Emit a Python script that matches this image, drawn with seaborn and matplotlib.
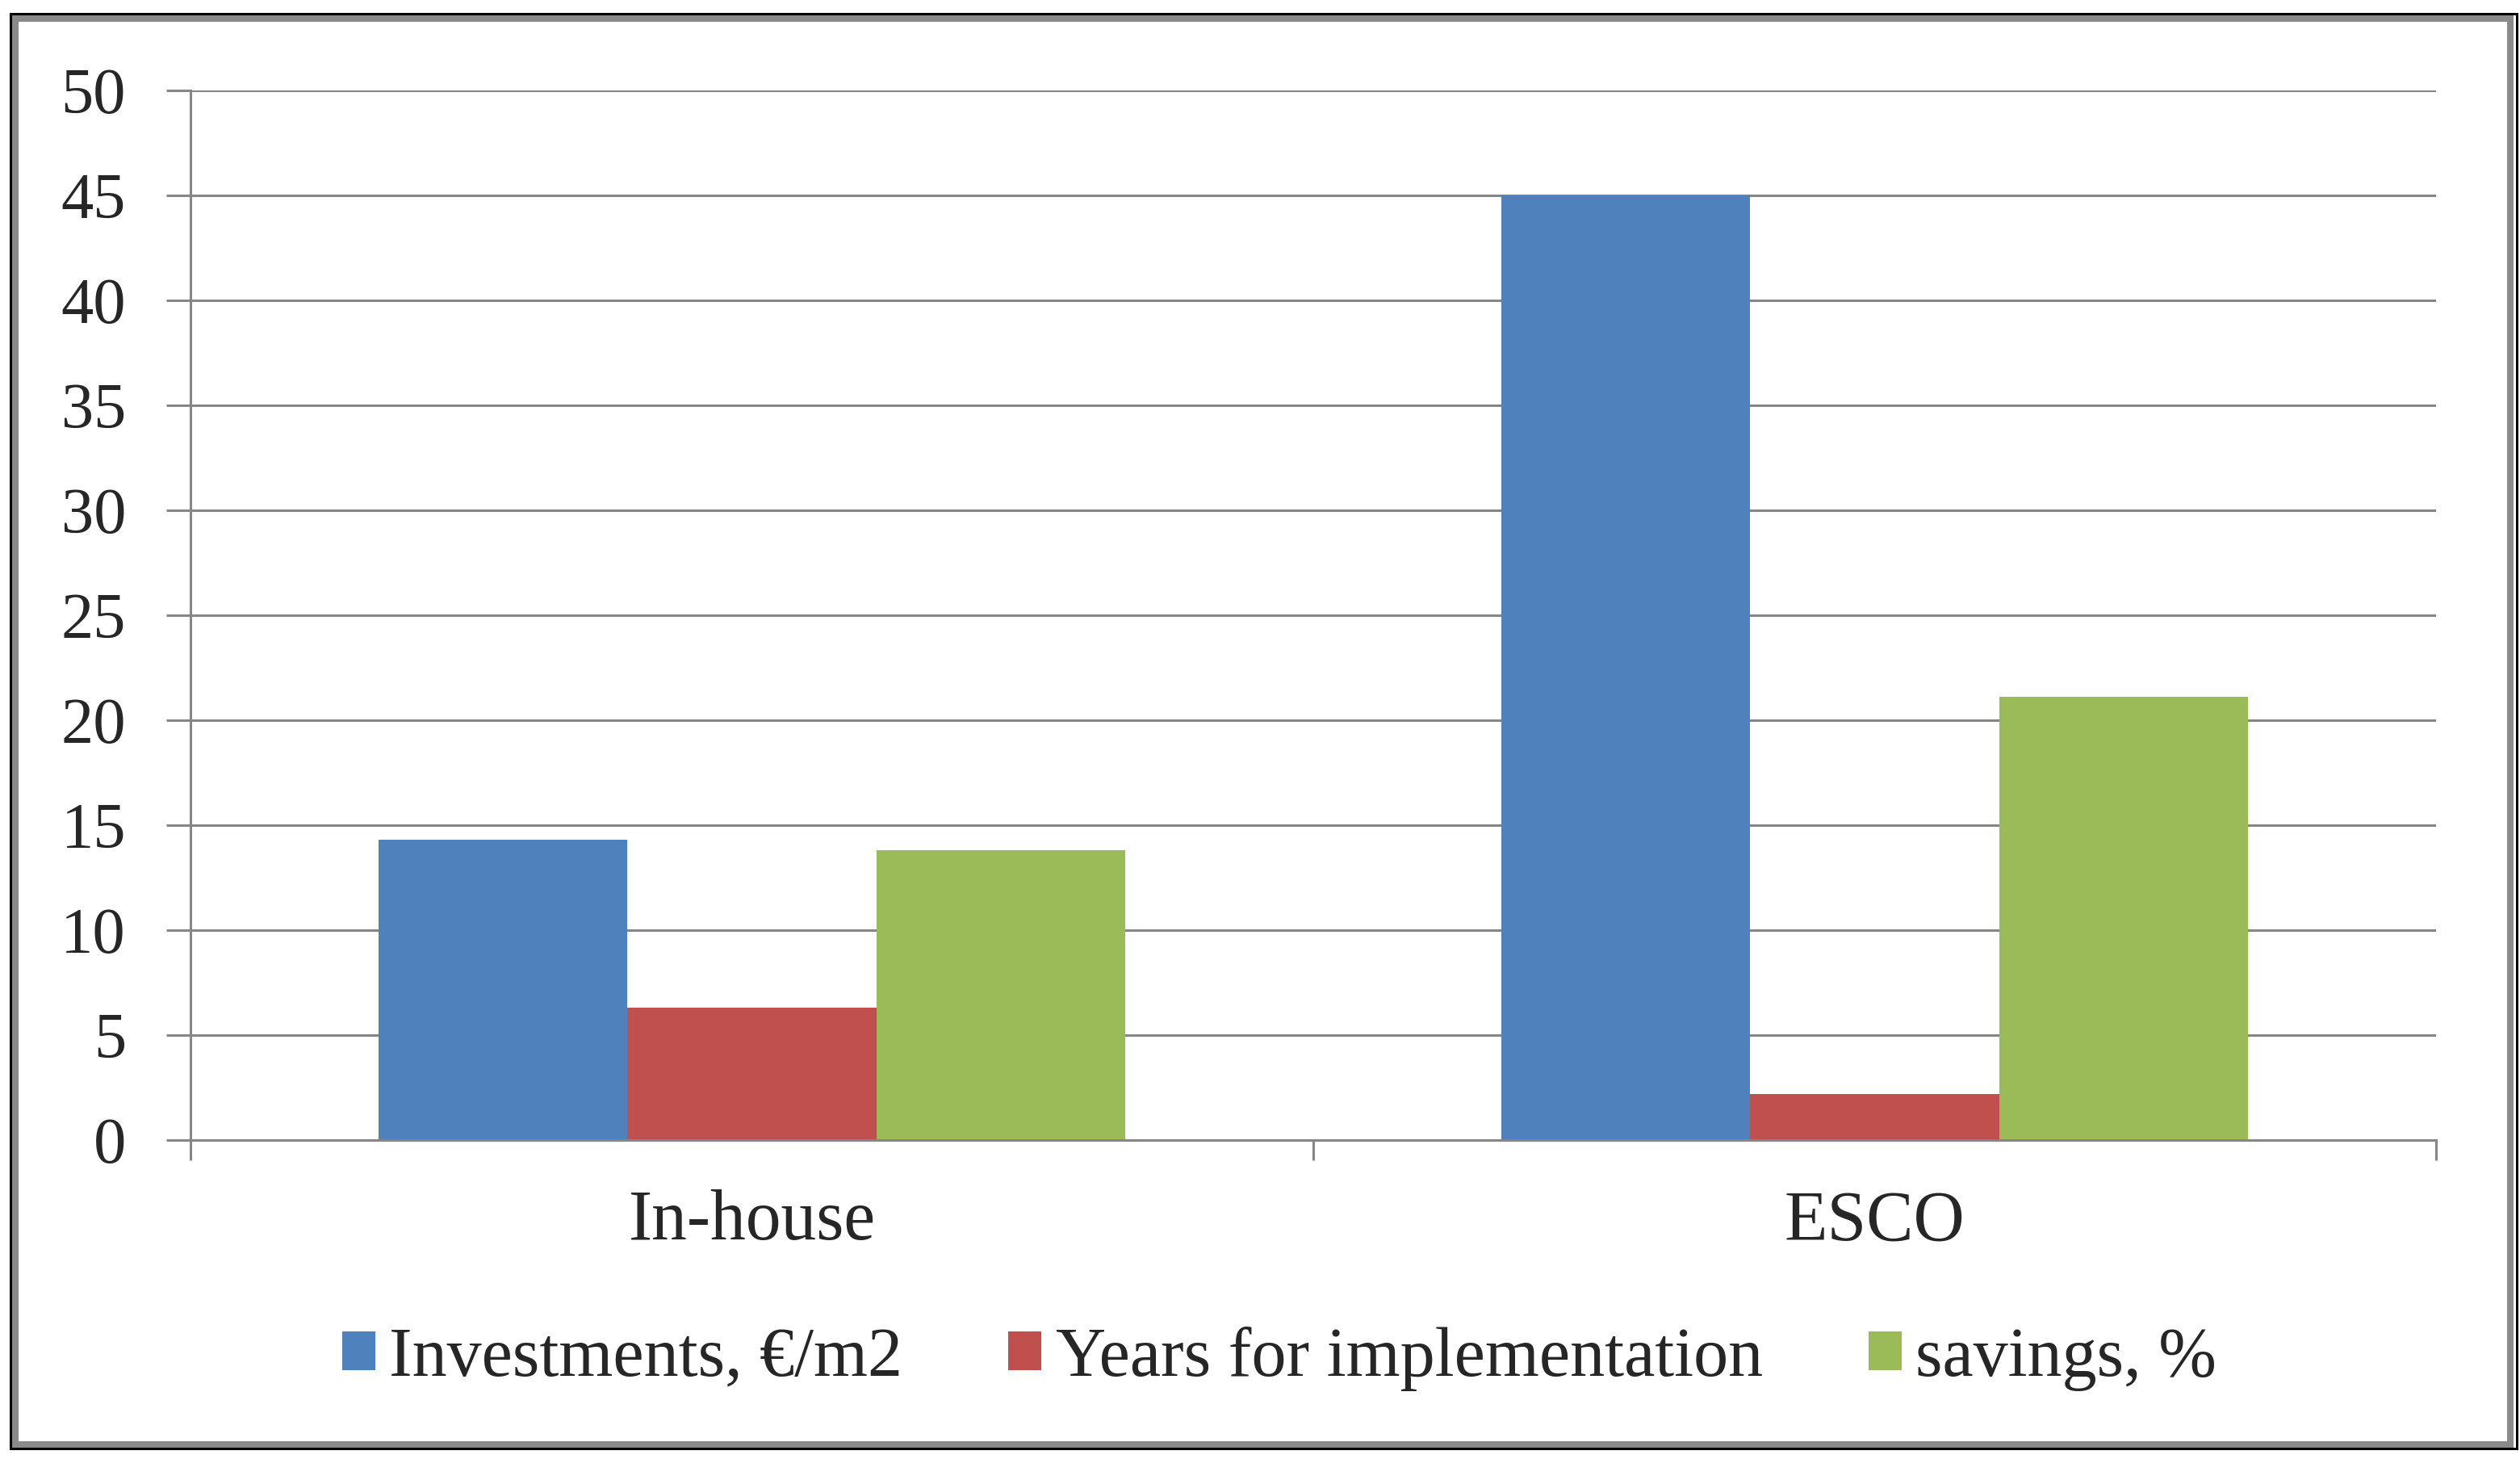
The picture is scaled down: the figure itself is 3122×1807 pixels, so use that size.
import pandas as pd
import matplotlib.pyplot as plt
import matplotlib.patches as mpatches
import seaborn as sns

# 数据
categories = ['In-house', 'ESCO']
series_names = ['Investments, €/m2', 'Years for implementation', 'savings, %']
investments = [14.3, 45.0]
years = [6.3, 2.2]
savings = [13.8, 21.1]
colors = ['#4F81BD', '#C0504D', '#9BBB59']
y_ticks = list(range(0, 51, 5))

df = pd.DataFrame({
    'cat': categories * 3,
    'series': [series_names[0]] * 2 + [series_names[1]] * 2 + [series_names[2]] * 2,
    'value': investments + years + savings,
})

sns.set_style('white')
plt.rcParams['font.family'] = ['Liberation Serif', 'DejaVu Serif']

W, H, DPI = 3122, 1807, 200
fig = plt.figure(figsize=(W / DPI, H / DPI), dpi=DPI)
ax = fig.add_axes([236 / W, 1 - 1412 / H, (3018 - 236) / W, (1412 - 112) / H])

sns.barplot(data=df, x='cat', y='value', hue='series', order=categories,
            hue_order=series_names, palette=colors, width=0.665, gap=0,
            saturation=1, edgecolor='none', ax=ax)

grid_c = '#868686'
ax.set_ylim(0, 50)
ax.set_xlim(-0.5, 1.5)
ax.set_yticks(y_ticks)
ax.set_yticklabels([str(t) for t in y_ticks], fontsize=29)
ax.yaxis.grid(True, color=grid_c, linewidth=1.1)
ax.set_axisbelow(True)
ax.tick_params(axis='y', length=10.8, width=1.1, color=grid_c, pad=18, left=True)
ax.tick_params(axis='x', which='major', length=0, pad=22, labelsize=31.5)
ax.set_xticks([-0.5, 0.5, 1.5], minor=True)
ax.tick_params(axis='x', which='minor', length=9, width=1.1, color=grid_c, bottom=True)
ax.set_xlabel('')
ax.set_ylabel('')
for s in ['top', 'right']:
    ax.spines[s].set_visible(False)
for s in ['left', 'bottom']:
    ax.spines[s].set_color(grid_c)
    ax.spines[s].set_linewidth(1.1)

handles, labels = ax.get_legend_handles_labels()
ax.get_legend().remove()
fig.legend(handles, labels, loc='center', ncol=3, frameon=False,
           bbox_to_anchor=(1585 / W, 1 - 1683 / H), fontsize=31,
           handlelength=0.48, handleheight=0.48, handletextpad=0.2,
           columnspacing=1.52)

# 外框
def frame(l, t, r, b, color, lw):
    rect = mpatches.Rectangle((l / W, 1 - b / H), (r - l) / W, (b - t) / H,
                              transform=fig.transFigure, fill=False,
                              edgecolor=color, linewidth=lw)
    fig.add_artist(rect)

frame(19, 23, 3110, 1789, '#8A8A8A', 2.9)
frame(12.5, 16.5, 3118, 1794, 'black', 1.1)

fig.savefig('out.png', dpi=DPI, facecolor='white')
